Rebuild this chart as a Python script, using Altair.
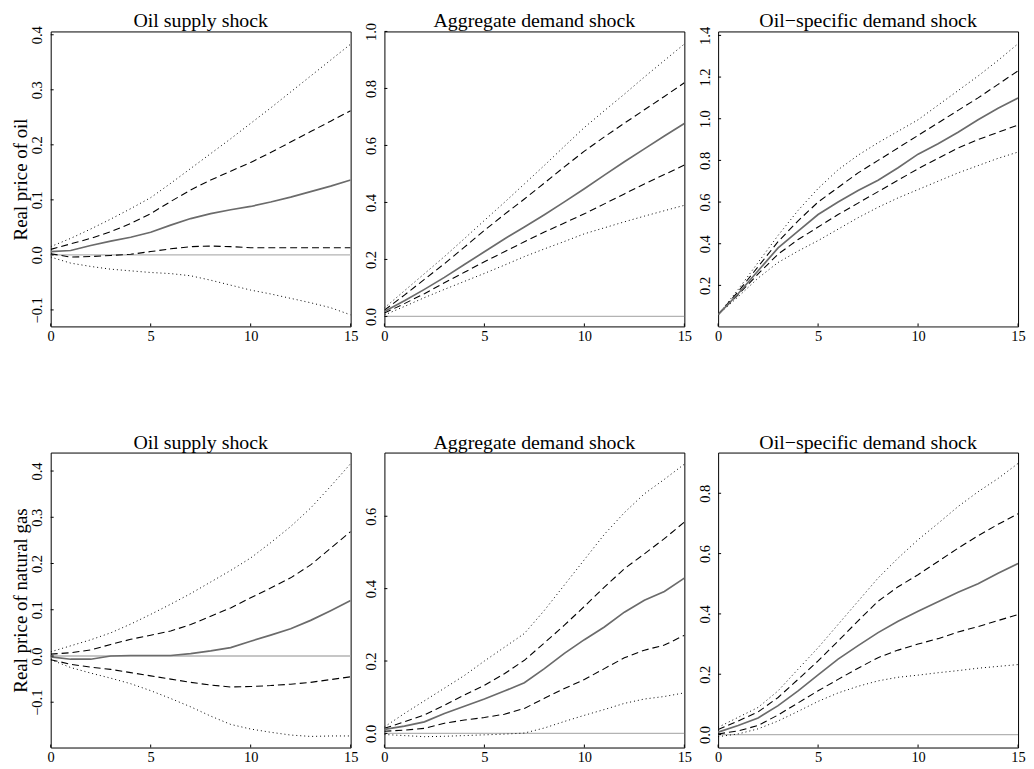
import altair as alt
import pandas as pd

horizon = list(range(16))
x_ticks = [0, 5, 10, 15]
shock_titles = ["Oil supply shock", "Aggregate demand shock", "Oil\u2212specific demand shock"]
row_titles = ["Real price of oil", "Real price of natural gas"]

# ---- Row 1: real price of oil ----
med1 = [0.006, 0.008, 0.017, 0.025, 0.032, 0.041, 0.054, 0.066, 0.075, 0.082, 0.088, 0.096, 0.105, 0.115, 0.125, 0.136]
up68_1 = [0.010, 0.020, 0.030, 0.042, 0.057, 0.075, 0.097, 0.118, 0.136, 0.152, 0.168, 0.186, 0.205, 0.224, 0.243, 0.262]
lo68_1 = [0.002, -0.004, -0.003, -0.001, 0.001, 0.006, 0.011, 0.015, 0.016, 0.015, 0.013, 0.013, 0.013, 0.013, 0.013, 0.013]
up95_1 = [0.015, 0.030, 0.047, 0.065, 0.084, 0.104, 0.130, 0.157, 0.184, 0.211, 0.239, 0.267, 0.296, 0.325, 0.354, 0.383]
lo95_1 = [-0.004, -0.015, -0.021, -0.026, -0.029, -0.032, -0.034, -0.038, -0.046, -0.055, -0.064, -0.071, -0.079, -0.087, -0.096, -0.109]
dom1 = [-0.130, 0.406]
ticks1 = [-0.1, 0.0, 0.1, 0.2, 0.3, 0.4]

med2 = [0.017, 0.055, 0.095, 0.137, 0.182, 0.227, 0.272, 0.314, 0.357, 0.402, 0.448, 0.496, 0.543, 0.588, 0.633, 0.677]
up68_2 = [0.022, 0.075, 0.130, 0.185, 0.243, 0.302, 0.358, 0.412, 0.468, 0.525, 0.580, 0.630, 0.678, 0.725, 0.772, 0.820]
lo68_2 = [0.012, 0.045, 0.080, 0.118, 0.155, 0.192, 0.227, 0.262, 0.296, 0.328, 0.360, 0.395, 0.430, 0.465, 0.498, 0.531]
up95_2 = [0.030, 0.090, 0.150, 0.210, 0.273, 0.337, 0.400, 0.465, 0.530, 0.597, 0.663, 0.722, 0.780, 0.840, 0.898, 0.956]
lo95_2 = [0.005, 0.035, 0.066, 0.095, 0.123, 0.151, 0.180, 0.210, 0.237, 0.263, 0.290, 0.311, 0.332, 0.352, 0.371, 0.390]
dom2 = [-0.035, 1.0]
ticks2 = [0.0, 0.2, 0.4, 0.6, 0.8, 1.0]

med3 = [0.06, 0.16, 0.27, 0.38, 0.46, 0.54, 0.60, 0.655, 0.705, 0.765, 0.83, 0.88, 0.935, 0.995, 1.05, 1.10]
up68_3 = [0.06, 0.17, 0.29, 0.41, 0.51, 0.60, 0.67, 0.74, 0.80, 0.86, 0.92, 0.98, 1.04, 1.10, 1.165, 1.23]
lo68_3 = [0.06, 0.155, 0.255, 0.35, 0.42, 0.48, 0.54, 0.595, 0.65, 0.705, 0.76, 0.81, 0.86, 0.90, 0.935, 0.97]
up95_3 = [0.06, 0.18, 0.31, 0.44, 0.56, 0.665, 0.755, 0.825, 0.885, 0.94, 0.995, 1.065, 1.135, 1.205, 1.28, 1.36]
lo95_3 = [0.06, 0.145, 0.235, 0.31, 0.365, 0.415, 0.47, 0.525, 0.575, 0.62, 0.66, 0.70, 0.74, 0.775, 0.81, 0.84]
dom3 = [0.003, 1.419]
ticks3 = [0.2, 0.4, 0.6, 0.8, 1.0, 1.2, 1.4]

# ---- Row 2: real price of natural gas ----
med4 = [-0.002, -0.007, -0.007, 0.0, 0.001, 0.001, 0.001, 0.005, 0.011, 0.018, 0.032, 0.045, 0.059, 0.077, 0.098, 0.12]
up68_4 = [0.004, 0.007, 0.013, 0.025, 0.036, 0.045, 0.054, 0.068, 0.086, 0.104, 0.126, 0.147, 0.169, 0.197, 0.233, 0.269]
lo68_4 = [-0.008, -0.018, -0.024, -0.029, -0.036, -0.043, -0.050, -0.057, -0.063, -0.067, -0.066, -0.064, -0.061, -0.057, -0.051, -0.045]
up95_4 = [0.009, 0.022, 0.035, 0.050, 0.069, 0.090, 0.112, 0.135, 0.160, 0.185, 0.212, 0.245, 0.280, 0.320, 0.367, 0.416]
lo95_4 = [-0.008, -0.025, -0.037, -0.048, -0.060, -0.075, -0.092, -0.110, -0.130, -0.148, -0.158, -0.165, -0.171, -0.174, -0.173, -0.173]
dom4 = [-0.198, 0.44]
ticks4 = [-0.1, 0.0, 0.1, 0.2, 0.3, 0.4]

med5 = [0.011, 0.020, 0.032, 0.055, 0.075, 0.095, 0.117, 0.140, 0.179, 0.221, 0.259, 0.294, 0.335, 0.368, 0.392, 0.429]
up68_5 = [0.014, 0.032, 0.051, 0.078, 0.106, 0.133, 0.165, 0.202, 0.250, 0.299, 0.351, 0.404, 0.455, 0.496, 0.538, 0.584]
lo68_5 = [0.006, 0.009, 0.014, 0.028, 0.037, 0.044, 0.053, 0.069, 0.097, 0.124, 0.149, 0.179, 0.209, 0.230, 0.244, 0.271]
up95_5 = [0.018, 0.055, 0.090, 0.125, 0.160, 0.200, 0.238, 0.276, 0.340, 0.410, 0.480, 0.550, 0.610, 0.662, 0.702, 0.744]
lo95_5 = [-0.003, -0.006, -0.009, -0.008, -0.006, -0.004, -0.002, 0.001, 0.015, 0.033, 0.050, 0.066, 0.083, 0.095, 0.102, 0.112]
dom5 = [-0.039, 0.776]
ticks5 = [0.0, 0.2, 0.4, 0.6]

med6 = [0.008, 0.030, 0.055, 0.096, 0.145, 0.198, 0.250, 0.295, 0.338, 0.376, 0.409, 0.440, 0.472, 0.500, 0.535, 0.567]
up68_6 = [0.017, 0.045, 0.075, 0.123, 0.183, 0.244, 0.310, 0.377, 0.442, 0.490, 0.530, 0.574, 0.618, 0.659, 0.697, 0.732]
lo68_6 = [0.002, 0.012, 0.030, 0.065, 0.105, 0.145, 0.183, 0.220, 0.255, 0.280, 0.300, 0.318, 0.340, 0.358, 0.378, 0.398]
up95_6 = [0.024, 0.057, 0.090, 0.145, 0.217, 0.288, 0.365, 0.442, 0.519, 0.585, 0.646, 0.700, 0.756, 0.805, 0.849, 0.899]
lo95_6 = [-0.007, 0.002, 0.019, 0.045, 0.077, 0.110, 0.138, 0.160, 0.178, 0.190, 0.197, 0.205, 0.212, 0.220, 0.226, 0.232]
dom6 = [-0.043, 0.935]
ticks6 = [0.0, 0.2, 0.4, 0.6, 0.8]

FONT = "Liberation Serif"
W, H = 302, 297


def panel(med, up68, lo68, up95, lo95, dom, yticks, title, ytitle=None):
    n = len(horizon)
    df = pd.DataFrame({
        "h": horizon * 5,
        "v": med + up68 + lo68 + up95 + lo95,
        "s": ["med"] * n + ["up68"] * n + ["lo68"] * n + ["up95"] * n + ["lo95"] * n,
    })
    xs = alt.Scale(domain=[0, 15], nice=False, zero=False)
    ys = alt.Scale(domain=dom, nice=False, zero=False)
    xax = alt.Axis(values=x_ticks, ticks=False, domain=False, grid=False,
                   labelFlush=False, labelPadding=3, title=None)
    yax_kw = dict(values=yticks, format=".1f", ticks=False, domain=False, grid=False,
                  labelFlush=False, labelAngle=270, labelPadding=6, labelOverlap=False)
    if ytitle:
        yax = alt.Axis(title=ytitle, titlePadding=-1, **yax_kw)
    else:
        yax = alt.Axis(title=None, **yax_kw)
    X = alt.X("h:Q", scale=xs, axis=xax)
    Y = alt.Y("v:Q", scale=ys, axis=yax)

    base = alt.Chart(df)
    zero = alt.Chart(pd.DataFrame({"v": [0.0]})).mark_rule(
        color="#b3b3b3", strokeWidth=1.3, clip=True).encode(y=Y)
    dotted = base.transform_filter(
        alt.FieldOneOfPredicate(field="s", oneOf=["up95", "lo95"])
    ).mark_line(color="black", strokeDash=[1, 3], strokeWidth=1, clip=True).encode(
        x=X, y=Y, detail="s:N")
    dashed = base.transform_filter(
        alt.FieldOneOfPredicate(field="s", oneOf=["up68", "lo68"])
    ).mark_line(color="black", strokeDash=[7, 4], strokeWidth=1.1, clip=True).encode(
        x=X, y=Y, detail="s:N")
    solid = base.transform_filter(alt.datum.s == "med").mark_line(
        color="#6b6b6b", strokeWidth=1.7, clip=True).encode(x=X, y=Y)
    ytk = alt.Chart(pd.DataFrame({"v": yticks})).mark_rule(
        color="black", strokeWidth=1).encode(y=Y, x=alt.value(0), x2=alt.value(3))
    xtk = alt.Chart(pd.DataFrame({"h": x_ticks})).mark_rule(
        color="black", strokeWidth=1).encode(x=X, y=alt.value(H), y2=alt.value(H - 3))
    ttl = alt.Chart(pd.DataFrame({"t": [title]})).mark_text(
        font=FONT, fontSize=20, color="black", align="center", baseline="alphabetic"
    ).encode(x=alt.value(W / 2), y=alt.value(-4), text="t:N")
    return alt.layer(zero, dotted, dashed, solid, ytk, xtk, ttl).properties(
        width=W, height=H)


panels = [
    panel(med1, up68_1, lo68_1, up95_1, lo95_1, dom1, ticks1, shock_titles[0], row_titles[0]),
    panel(med2, up68_2, lo68_2, up95_2, lo95_2, dom2, ticks2, shock_titles[1]),
    panel(med3, up68_3, lo68_3, up95_3, lo95_3, dom3, ticks3, shock_titles[2]),
    panel(med4, up68_4, lo68_4, up95_4, lo95_4, dom4, ticks4, shock_titles[0], row_titles[1]),
    panel(med5, up68_5, lo68_5, up95_5, lo95_5, dom5, ticks5, shock_titles[1]),
    panel(med6, up68_6, lo68_6, up95_6, lo95_6, dom6, ticks6, shock_titles[2]),
]

chart = alt.concat(
    *panels, columns=3, bounds="flush", spacing={"row": 127, "column": 34}
).properties(
    padding={"left": 3, "top": 0, "right": 0, "bottom": 0}
).configure_view(
    stroke="black", strokeWidth=1
).configure_axis(
    labelFont=FONT, labelFontSize=14.5, labelColor="black",
    titleFont=FONT, titleFontSize=19, titleFontWeight="normal", titleColor="black",
)

chart.save("out.html", embed_options={"renderer": "svg", "actions": False})
